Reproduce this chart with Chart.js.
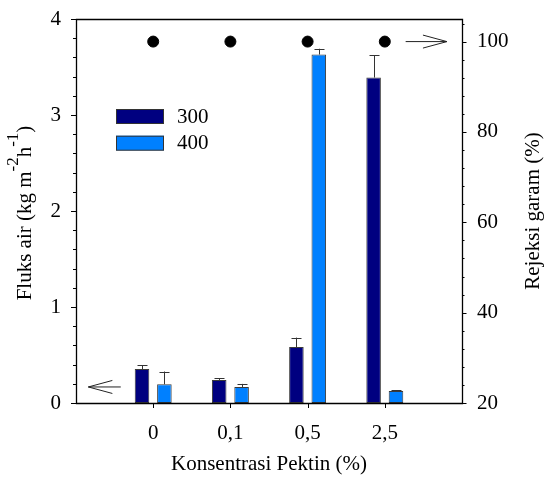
<!DOCTYPE html>
<html>
<head>
<meta charset="utf-8">
<script src="https://cdn.jsdelivr.net/npm/chart.js@4.4.1/dist/chart.umd.min.js"></script>
<style>
  html, body { margin: 0; padding: 0; background: #fff; }
  canvas { display: block; }
</style>
</head>
<body>
<canvas id="grafik" width="548" height="477"></canvas>
<script>
// data
const kategori = ["0", "0,1", "0,5", "2,5"];
const fluks300 = [0.354, 0.24, 0.583, 3.39];
const err300 = [0.037, 0.018, 0.098, 0.23];
const fluks400 = [0.195, 0.167, 3.63, 0.125];
const err400 = [0.133, 0.032, 0.06, 0.01];
const rejeksi = [100, 100, 100, 100];
const tickKiri = [0, 1, 2, 3, 4];
const tickKanan = [20, 40, 60, 80, 100];

const FONT = "Liberation Serif, Times New Roman, serif";
const fnt = { family: FONT, size: 21 };

const keXY = (arr) => arr.map((v, i) => ({ x: i, y: v }));

// sumbu tegak: lebar tetap, tanpa padding tambahan untuk label
const pasSumbu = (lebar) => (s) => {
    s.width = lebar;
    s.paddingTop = 0;
    s.paddingBottom = 0;
};

// garis kesalahan (hanya ke atas)
const errorBars = {
    id: "errorBars",
    afterDatasetsDraw(chart) {
        const { ctx } = chart;
        const ys = chart.scales.y;
        ctx.save();
        ctx.strokeStyle = "#333";
        ctx.lineWidth = 1;
        [err300, err400].forEach((errs, di) => {
            const meta = chart.getDatasetMeta(di);
            meta.data.forEach((bar, i) => {
                const v = chart.data.datasets[di].data[i].y;
                const top = ys.getPixelForValue(v + errs[i]);
                const x = Math.round(bar.x) + 0.5;
                ctx.beginPath();
                ctx.moveTo(x, bar.y);
                ctx.lineTo(x, top);
                ctx.moveTo(x - 5, Math.round(top) + 0.5);
                ctx.lineTo(x + 5, Math.round(top) + 0.5);
                ctx.stroke();
            });
        });
        ctx.restore();
    },
};

function panah(ctx, x1, x2, y) {
    // x1 = ujung panah
    const dir = x2 > x1 ? 1 : -1;
    ctx.beginPath();
    ctx.moveTo(x2, y);
    ctx.lineTo(x1, y);
    ctx.moveTo(x1 + dir * 24, y - 6.5);
    ctx.lineTo(x1, y);
    ctx.lineTo(x1 + dir * 24, y + 6.5);
    ctx.stroke();
}

const bingkai = {
    id: "bingkai",
    afterDraw(chart) {
        const { ctx, chartArea: a, scales } = chart;
        const { x, y, y2 } = scales;
        const kiri = Math.round(a.left) + 0.5, kanan = Math.round(a.right) + 0.5;
        const atas = Math.round(y.getPixelForValue(4)) + 0.5, bawah = Math.round(y.getPixelForValue(0)) + 0.5;
        ctx.save();
        ctx.strokeStyle = "#000";
        ctx.lineWidth = 1.3;
        ctx.beginPath();
        ctx.moveTo(kiri, bawah);
        ctx.lineTo(kiri, atas);
        ctx.lineTo(kanan, atas);
        ctx.lineTo(kanan, bawah);
        ctx.closePath();
        ctx.stroke();

        ctx.lineWidth = 1;
        ctx.beginPath();
        // tick kiri: mayor tiap 1, minor tiap 0,2
        for (let k = 0; k <= 20; k++) {
            const py = Math.round(y.getPixelForValue(k / 5)) + 0.5;
            const len = k % 5 === 0 ? 5 : 3;
            ctx.moveTo(a.left, py);
            ctx.lineTo(a.left - len, py);
        }
        // tick kanan: mayor tiap 20, minor tiap 4
        for (let v = 20; v <= 104; v += 4) {
            const py = Math.round(y2.getPixelForValue(v)) + 0.5;
            const len = (v - 20) % 20 === 0 ? 4.5 : 2.5;
            ctx.moveTo(a.right, py);
            ctx.lineTo(a.right + len, py);
        }
        kategori.forEach((_, i) => {
            const px = Math.round(x.getPixelForValue(i)) + 0.5;
            ctx.moveTo(px, a.bottom);
            ctx.lineTo(px, a.bottom + 5);
        });
        ctx.stroke();

        // panah penunjuk sumbu
        ctx.strokeStyle = "#222";
        ctx.lineWidth = 1;
        panah(ctx, x.getPixelForValue(-0.84), x.getPixelForValue(-0.42), y.getPixelForValue(0.167));
        panah(ctx, x.getPixelForValue(3.805), x.getPixelForValue(3.27), y2.getPixelForValue(100));

        // legenda
        ctx.font = `21px ${FONT}`;
        ctx.textBaseline = "middle";
        ctx.textAlign = "left";
        chart.data.datasets.slice(0, 2).forEach((ds, i) => {
            const ty = 109 + i * 26.7;
            ctx.fillStyle = ds.backgroundColor;
            ctx.fillRect(116, ty, 48, 14.7);
            ctx.strokeStyle = "#333";
            ctx.strokeRect(116.5, ty + 0.5, 47, 14);
            ctx.fillStyle = "#000";
            ctx.fillText(ds.label, 177, ty + 8);
        });

        // judul sumbu kiri dengan superskrip
        const bagian = [["Fluks air (kg m", false], ["-2", true], ["h", false], ["-1", true], [")", false]];
        ctx.save();
        ctx.translate(24, 213);
        ctx.rotate(-Math.PI / 2);
        ctx.textBaseline = "alphabetic";
        let total = 0;
        const lebar = bagian.map(([t, sup]) => {
            ctx.font = `${sup ? 17 : 21}px ${FONT}`;
            const w = ctx.measureText(t).width;
            total += w;
            return w;
        });
        let cx = -total / 2;
        bagian.forEach(([t, sup], i) => {
            ctx.font = `${sup ? 17 : 21}px ${FONT}`;
            ctx.fillText(t, cx, sup ? -6 : 7);
            cx += lebar[i];
        });
        ctx.restore();

        // judul sumbu kanan
        ctx.save();
        ctx.translate(533, 211);
        ctx.rotate(-Math.PI / 2);
        ctx.font = `21px ${FONT}`;
        ctx.textAlign = "center";
        ctx.textBaseline = "middle";
        ctx.fillText("Rejeksi garam (%)", 0, 0);
        ctx.restore();

        ctx.restore();
    },
};

new Chart(document.getElementById("grafik").getContext("2d"), {
    type: "bar",
    data: {
        datasets: [
            { label: "300", data: keXY(fluks300), backgroundColor: "#000080", borderColor: "#3a3a3a", borderWidth: 1, borderSkipped: false, categoryPercentage: 0.58, barPercentage: 0.65, yAxisID: "y", order: 1 },
            { label: "400", data: keXY(fluks400), backgroundColor: "#0080ff", borderColor: "#3a3a3a", borderWidth: 1, borderSkipped: false, categoryPercentage: 0.58, barPercentage: 0.65, yAxisID: "y", order: 1 },
            { type: "scatter", label: "Rejeksi", data: keXY(rejeksi), yAxisID: "y2", pointRadius: 5.5, backgroundColor: "#000", borderColor: "#000", order: 0 },
        ],
    },
    options: {
        responsive: false,
        animation: false,
        layout: { padding: { top: 19 } },
        plugins: { legend: { display: false }, tooltip: { enabled: false } },
        scales: {
            x: {
                type: "linear",
                position: "bottom",
                min: -1,
                max: 4,
                offset: false,
                grid: { display: false, drawTicks: false },
                border: { display: false },
                afterBuildTicks: (s) => { s.ticks = kategori.map((_, i) => ({ value: i })); },
                ticks: { callback: (v) => kategori[v], font: fnt, color: "#000", padding: 18, maxRotation: 0, autoSkip: false },
                title: { display: true, text: "Konsentrasi Pektin (%)", font: fnt, color: "#000", padding: { top: 0, bottom: 0 } },
                afterFit: (s) => { s.height = 74; s.paddingLeft = 0; s.paddingRight = 0; },
            },
            y: {
                position: "left",
                min: 0,
                max: 4,
                grid: { display: false, drawTicks: false },
                border: { display: false },
                afterBuildTicks: (s) => { s.ticks = tickKiri.map((v) => ({ value: v })); },
                ticks: { font: fnt, color: "#000", padding: 15 },
                afterFit: pasSumbu(76),
            },
            y2: {
                position: "right",
                min: 20,
                max: 105,
                grid: { display: false, drawTicks: false },
                border: { display: false },
                afterBuildTicks: (s) => { s.ticks = tickKanan.map((v) => ({ value: v })); },
                ticks: { font: fnt, color: "#000", padding: 15 },
                afterFit: pasSumbu(86),
            },
        },
    },
    plugins: [errorBars, bingkai],
});
</script>
</body>
</html>
